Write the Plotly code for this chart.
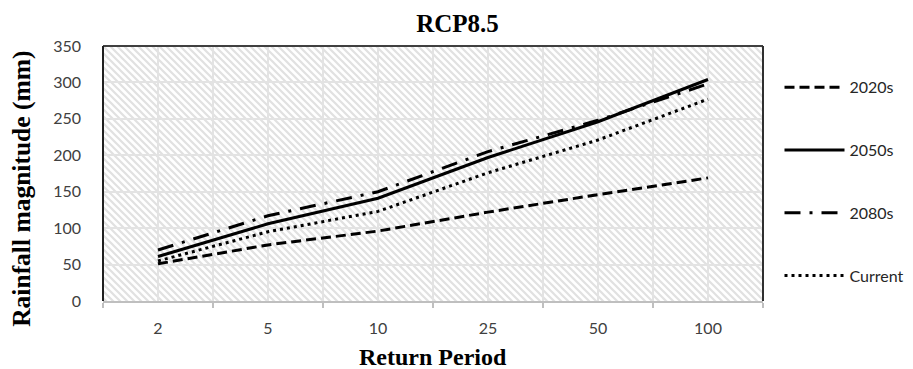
import base64
import plotly.graph_objects as go

# ---- data ----
periods = ["2", "5", "10", "25", "50", "100"]
s2020 = [51, 77, 96, 122, 146, 169]
s2050 = [61, 106, 141, 197, 246, 304]
s2080 = [70, 117, 150, 205, 248, 298]
current = [55, 95, 123, 176, 221, 277]
y_ticks = [0, 50, 100, 150, 200, 250, 300, 350]

# page body has an 8px margin, so the figure is 8px smaller each way
W, H = 905, 361
ML, MT, PW, PH = 95, 38, 660, 255
MR, MB = W - ML - PW, H - MT - PH

# hatch pattern background (decoration)
svg = f'''<svg xmlns="http://www.w3.org/2000/svg" width="{PW}" height="{PH}" viewBox="0 0 {PW} {PH}" preserveAspectRatio="none">
<defs><pattern id="p" patternUnits="userSpaceOnUse" width="7" height="7">
<rect width="7" height="7" fill="#ffffff"/>
<path d="M-2,-2 L9,9 M-2,5 L2,9 M5,-2 L9,2" stroke="#e1e1e1" stroke-width="2.2"/>
</pattern></defs>
<rect width="{PW}" height="{PH}" fill="url(#p)"/></svg>'''
uri = "data:image/svg+xml;base64," + base64.b64encode(svg.encode()).decode()

xi = list(range(len(periods)))
fig = go.Figure()
series = [
    ("2020s", s2020, "10px,5px"),
    ("2050s", s2050, "solid"),
    ("2080s", s2080, "16px,9px,3px,9px"),
    ("Current", current, "3px,4px"),
]
for name, vals, dash in series:
    fig.add_trace(go.Scatter(
        x=xi, y=vals, name=name, mode="lines", legendgroup=name,
        line=dict(color="black", width=3, dash=dash),
    ))

fig.add_layout_image(dict(
    source=uri, xref="x domain", yref="y domain", x=0, y=1,
    sizex=1, sizey=1, xanchor="left", yanchor="top",
    sizing="stretch", layer="below",
))

# plot border (top, left, right)
for x0, y0, x1, y1, col in [(0, 1, 1, 1, "#404040"), (0, 0, 0, 1, "#202020"), (1, 0, 1, 1, "#303030")]:
    fig.add_shape(type="line", xref="x domain", yref="y domain",
                  x0=x0, y0=y0, x1=x1, y1=y1,
                  line=dict(color=col, width=2), layer="above")

# axis titles as annotations (placed like the reference)
fig.add_annotation(text="<b>Rainfall magnitude (mm)</b>", textangle=-90,
                   xref="paper", yref="paper", x=(14 - ML) / PW, y=0.44,
                   xanchor="center", yanchor="middle", showarrow=False,
                   font=dict(family="Liberation Serif", size=25.5, color="black"))
fig.add_annotation(text="<b>Return Period</b>",
                   xref="paper", yref="paper", x=0.5, y=-(349 - MT - PH) / PH,
                   xanchor="center", yanchor="middle", showarrow=False,
                   font=dict(family="Liberation Serif", size=24, color="black"))

fig.update_layout(
    width=W, height=H,
    margin=dict(l=ML, r=MR, t=MT, b=MB, autoexpand=False),
    paper_bgcolor="white", plot_bgcolor="rgba(0,0,0,0)",
    title=dict(text="<b>RCP8.5</b>", x=449.5 / W, xanchor="center", y=1 - 15 / H, yanchor="middle",
               font=dict(family="Liberation Serif", size=25, color="black")),
    font=dict(family="Lato", size=16, color="#404040"),
    legend=dict(x=1.025, y=0.905, xanchor="left", yanchor="top",
                font=dict(family="Lato", size=16, color="#262626"),
                tracegroupgap=39, itemwidth=60, bgcolor="rgba(0,0,0,0)"),
    showlegend=True,
)
fig.update_xaxes(
    automargin=False,
    range=[-0.5, len(periods) - 0.5],
    tickmode="array", tickvals=xi, ticktext=periods,
    ticks="", showgrid=True, gridcolor="#e3e3e3", gridwidth=1.5,
    showline=True, linecolor="#bfbfbf", linewidth=2,
    zeroline=False,
    minor=dict(tickmode="array", tickvals=[i - 0.5 for i in range(len(periods) + 1)],
               ticks="outside", ticklen=5, tickcolor="#bfbfbf", tickwidth=1.5,
               showgrid=True, gridcolor="#e3e3e3", gridwidth=1.5),
    tickfont=dict(family="Lato", size=16, color="#404040"),
    ticklabelstandoff=12,
)
fig.update_yaxes(
    automargin=False,
    range=[0, 350], tickmode="array", tickvals=y_ticks,
    showgrid=True, gridcolor="#e3e3e3", gridwidth=1.5,
    zeroline=False, showline=False, ticks="",
    tickfont=dict(family="Lato", size=16, color="#404040"),
    ticklabelstandoff=21,
)
fig.write_html("out.html")
